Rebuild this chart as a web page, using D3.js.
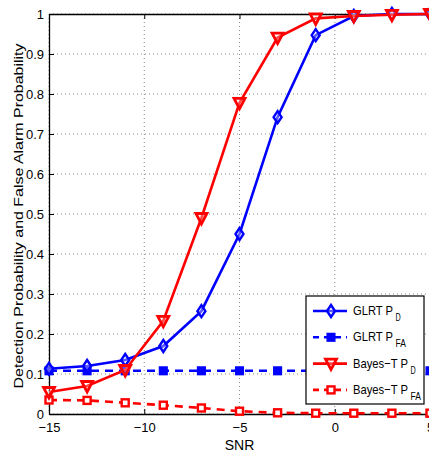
<!DOCTYPE html>
<html>
<head>
<meta charset="utf-8">
<script src="https://cdn.jsdelivr.net/npm/d3@7"></script>
<style>
  html, body { margin: 0; padding: 0; background: #fff; }
  svg { display: block; font-family: "Liberation Sans", Arial, Helvetica, sans-serif; }
</style>
</head>
<body>
<svg id="chart" width="429" height="458"></svg>
<script>
// SNR sweep (dB)
const snr = [-15, -13, -11, -9, -7, -5, -3, -1, 1, 3, 5];

// Detection / false-alarm probabilities per detector
const glrtPD   = [0.113, 0.120, 0.135, 0.170, 0.257, 0.450, 0.742, 0.947, 0.995, 1.000, 1.000];
const glrtPFA  = [0.108, 0.108, 0.108, 0.108, 0.108, 0.108, 0.108, 0.108, 0.108, 0.108, 0.108];
const bayesPD  = [0.055, 0.070, 0.110, 0.233, 0.490, 0.778, 0.941, 0.989, 0.995, 0.998, 1.000];
const bayesPFA = [0.035, 0.034, 0.028, 0.022, 0.015, 0.007, 0.003, 0.002, 0.002, 0.002, 0.002];

const xTicks = [-15, -10, -5, 0, 5];
const yTicks = [0, 0.1, 0.2, 0.3, 0.4, 0.5, 0.6, 0.7, 0.8, 0.9, 1];

const svg = d3.select("#chart");
const pL = 49, pR = 430, pT = 14, pB = 414;

const x = d3.scaleLinear().domain([-15, 5]).range([pL, pR]);
const y = d3.scaleLinear().domain([0, 1]).range([pB, pT]);

// dotted grid
const grid = svg.append("g");
grid.selectAll("line.gx").data(xTicks).join("line")
  .attr("x1", d => x(d)).attr("x2", d => x(d))
  .attr("y1", pT).attr("y2", pB)
  .attr("stroke", "#888").attr("stroke-width", 1).attr("stroke-dasharray", "1,3");
grid.selectAll("line.gy").data(yTicks).join("line")
  .attr("y1", d => y(d)).attr("y2", d => y(d))
  .attr("x1", pL).attr("x2", pR)
  .attr("stroke", "#888").attr("stroke-width", 1).attr("stroke-dasharray", "1,3");

// axes
const fmtY = d => d === 0 ? "0" : d === 1 ? "1" : d3.format(".1f")(d);
const fmtX = d => d < 0 ? "\u2212" + Math.abs(d) : String(d);

const xAxis = svg.append("g").attr("transform", `translate(0,${pB})`)
  .call(d3.axisBottom(x).tickValues(xTicks).tickFormat(fmtX).tickSize(-5).tickSizeOuter(0).tickPadding(9));
const xTop = svg.append("g").attr("transform", `translate(0,${pT})`)
  .call(d3.axisTop(x).tickValues(xTicks).tickFormat("").tickSize(-5).tickSizeOuter(0));
const yAxis = svg.append("g").attr("transform", `translate(${pL},0)`)
  .call(d3.axisLeft(y).tickValues(yTicks).tickFormat(fmtY).tickSize(-5).tickSizeOuter(0).tickPadding(5));

[xAxis, xTop, yAxis].forEach(g => {
  g.selectAll(".domain").attr("stroke", "#000").attr("stroke-width", 1.3);
  g.selectAll(".tick line").attr("stroke", "#000");
  g.selectAll("text").attr("fill", "#000").attr("font-size", 13)
    .attr("font-family", "Liberation Sans, Arial, sans-serif");
});

// axis titles
svg.append("text").attr("x", x(-5)).attr("y", 450).attr("text-anchor", "middle")
  .attr("font-size", 14).text("SNR");
svg.append("text")
  .attr("transform", `translate(23,${(pT + pB) / 2 + 2}) rotate(-90)`)
  .attr("text-anchor", "middle").attr("font-size", 13.5)
  .attr("textLength", 345).attr("lengthAdjust", "spacingAndGlyphs")
  .text("Detection Probability and False Alarm Probability");

const plot = svg.append("g");

const line = d3.line().x((d, i) => x(snr[i])).y(d => y(d));

const symbols = {
  diamond: (g, c) => g.append("path")
    .attr("d", "M0,-6 L4,0 L0,6 L-4,0 Z")
    .attr("fill", "#fff").attr("fill-opacity", 0.35).attr("stroke", c).attr("stroke-width", 2.4),
  square: (g, c) => g.append("rect").attr("x", -3.8).attr("y", -3.8).attr("width", 7.6).attr("height", 7.6)
    .attr("fill", c).attr("stroke", c).attr("stroke-width", 1.5),
  squareOpen: (g, c) => g.append("rect").attr("x", -3.5).attr("y", -3.5).attr("width", 7).attr("height", 7)
    .attr("fill", "#fff").attr("stroke", c).attr("stroke-width", 2.4),
  triDown: (g, c) => g.append("path")
    .attr("d", "M-5.5,-4.5 L5.5,-4.5 L0,6 Z")
    .attr("fill", "#fff").attr("fill-opacity", 0.3).attr("stroke", c).attr("stroke-width", 2.8)
};

const series = [
  { name: "GLRT P", sub: "D",  w: 40, vals: glrtPD,   color: "#0000ff", dash: null,  sym: "diamond" },
  { name: "GLRT P", sub: "FA", w: 40, vals: glrtPFA,  color: "#0000ff", dash: "8,6", sym: "square" },
  { name: "Bayes\u2212T P", sub: "D",  w: 55, vals: bayesPD,  color: "#ff0000", dash: null,  sym: "triDown" },
  { name: "Bayes\u2212T P", sub: "FA", w: 55, vals: bayesPFA, color: "#ff0000", dash: "8,6", sym: "squareOpen" }
];

// red curves are drawn on top of the blue ones
[1, 0, 3, 2].forEach(k => {
  const s = series[k];
  plot.append("path").datum(s.vals)
    .attr("d", line).attr("fill", "none")
    .attr("stroke", s.color).attr("stroke-width", 2.6)
    .attr("stroke-dasharray", s.dash);
  s.vals.forEach((v, i) => {
    const g = plot.append("g").attr("transform", `translate(${x(snr[i])},${y(v)})`);
    symbols[s.sym](g, s.color);
  });
});

// legend
const lg = svg.append("g");
lg.append("rect").attr("x", 306).attr("y", 296).attr("width", 118).attr("height", 108)
  .attr("fill", "#fff").attr("stroke", "#000").attr("stroke-width", 1.2);
series.forEach((s, i) => {
  const yy = 311 + i * 26.3;
  lg.append("line").attr("x1", 313).attr("x2", 347).attr("y1", yy).attr("y2", yy)
    .attr("stroke", s.color).attr("stroke-width", 2.6).attr("stroke-dasharray", s.dash ? "6,5" : null);
  const g = lg.append("g").attr("transform", `translate(331,${yy})`);
  symbols[s.sym](g, s.color);
  lg.append("text").attr("x", 353).attr("y", yy + 4).attr("font-size", 13.5).attr("fill", "#000")
    .attr("textLength", s.w).attr("lengthAdjust", "spacingAndGlyphs").text(s.name);
  lg.append("text").attr("x", 353 + s.w + 2.5).attr("y", yy + 10).attr("font-size", 10).attr("fill", "#000")
    .attr("textLength", s.sub.length * 5.2).attr("lengthAdjust", "spacingAndGlyphs").text(s.sub);
});
</script>
</body>
</html>
